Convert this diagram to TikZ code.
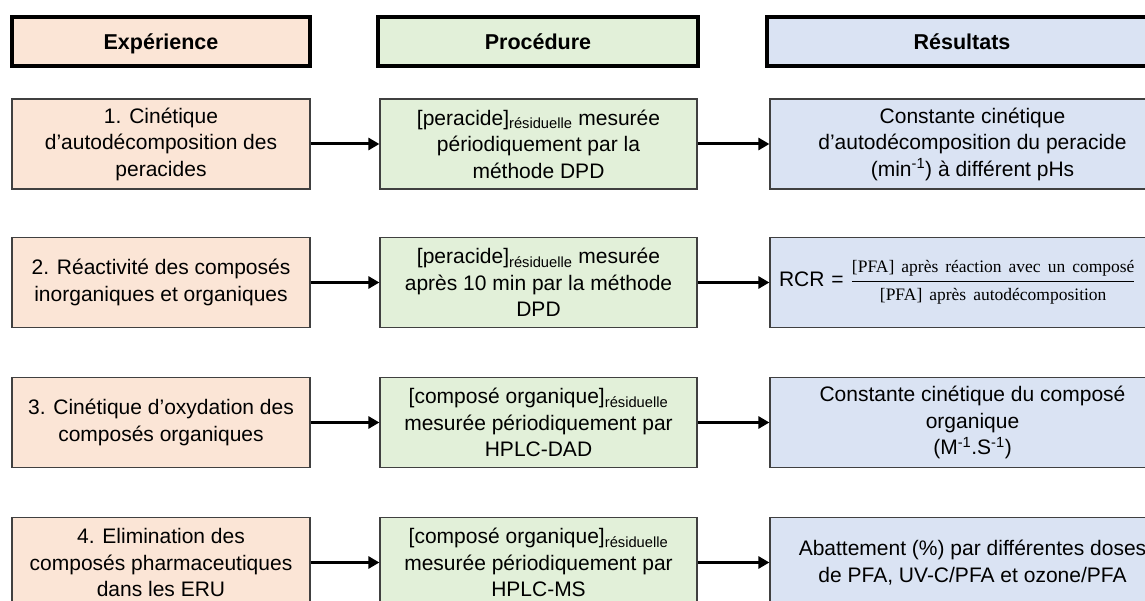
\documentclass[tikz,border=0pt]{standalone}
\usepackage{amsmath}
\usepackage{fontspec}
\setmainfont{Liberation Sans}
\newfontfamily\fracfont{Liberation Serif}
\usetikzlibrary{arrows.meta}

\definecolor{expfill}{HTML}{FBE5D6}
\definecolor{procfill}{HTML}{E2F0D9}
\definecolor{resfill}{HTML}{DAE3F3}
\definecolor{boxline}{HTML}{404040}

\tikzset{
  rowbox/.style={draw=boxline, line width=1.2pt, minimum height=90pt, inner sep=0pt,
    align=center, font=\fontsize{21}{26.5}\selectfont},
  headbox/.style={draw=black, line width=3.2pt, minimum height=49pt, inner sep=0pt,
    text height=17pt, text depth=0pt, font=\fontsize{21.5}{24}\selectfont\bfseries},
  link/.style={line width=3pt, -{Triangle[length=11pt,width=12pt]}}
}

\begin{document}
\begin{tikzpicture}[x=1pt, y=-1pt]
              \useasboundingbox (0,0) rectangle (1145,601);
              \clip (0,0) rectangle (1145,601);

              % headers
              \node[headbox, fill=expfill, minimum width=298pt] (hexp) at (161,41.5) {Expérience};
              \node[headbox, fill=procfill, minimum width=320pt] (hproc) at (538,41.5) {Procédure};
              \node[headbox, fill=resfill, minimum width=390pt] (hres) at (962,41.5) {Résultats};

              % row 1
              \node[rowbox, fill=expfill, minimum width=298pt] (exp1) at (161,144)
                {1. Cinétique\\d’autodécomposition des\\peracides};
              \node[rowbox, fill=procfill, minimum width=317pt] (proc1) at (538.5,144)
                {[peracide]\textsubscript{résiduelle} mesurée\\périodiquement par la\\méthode DPD};
              \node[rowbox, fill=resfill, minimum width=405pt] (res1) at (972.5,144)
                {Constante cinétique\\d’autodécomposition du peracide\\(min\textsuperscript{-1}) à différent pHs};

              % row 2
              \node[rowbox, fill=expfill, minimum width=298pt] (exp2) at (161,282.5)
                {2. Réactivité des composés\\inorganiques et organiques};
              \node[rowbox, fill=procfill, minimum width=317pt] (proc2) at (538.5,282.5)
                {[peracide]\textsubscript{résiduelle} mesurée\\après 10 min par la méthode\\DPD};
              \node[rowbox, fill=resfill, minimum width=405pt, text width=395pt, align=left] (res2) at (972.5,282.5)
                {\hspace*{4pt}RCR = $\dfrac{\mbox{\fracfont\fontsize{17.5}{20}\selectfont [PFA] après réaction avec un composé}}
                  {\mbox{\fracfont\fontsize{17.5}{20}\selectfont [PFA] après autodécomposition}}$};

              % row 3
              \node[rowbox, fill=expfill, minimum width=298pt] (exp3) at (161,422.5)
                {3. Cinétique d’oxydation des\\composés organiques};
              \node[rowbox, fill=procfill, minimum width=317pt] (proc3) at (538.5,422.5)
                {[composé organique]\textsubscript{résiduelle}\\mesurée périodiquement par\\HPLC-DAD};
              \node[rowbox, fill=resfill, minimum width=405pt] (res3) at (972.5,422.5)
                {Constante cinétique du composé\\organique\\(M\textsuperscript{-1}.S\textsuperscript{-1})};

              % row 4
              \node[rowbox, fill=expfill, minimum width=298pt] (exp4) at (161,562.5)
                {4. Elimination des\\composés pharmaceutiques\\dans les ERU};
              \node[rowbox, fill=procfill, minimum width=317pt] (proc4) at (538.5,562.5)
                {[composé organique]\textsubscript{résiduelle}\\mesurée périodiquement par\\HPLC-MS};
              \node[rowbox, fill=resfill, minimum width=405pt] (res4) at (972.5,562.5)
                {Abattement (\%) par différentes doses\\de PFA, UV-C/PFA et ozone/PFA};

              % arrows
              \draw[link] (exp1) -- (proc1);
              \draw[link] (proc1) -- (res1);
              \draw[link] (exp2) -- (proc2);
              \draw[link] (proc2) -- (res2);
              \draw[link] (exp3) -- (proc3);
              \draw[link] (proc3) -- (res3);
              \draw[link] (exp4) -- (proc4);
              \draw[link] (proc4) -- (res4);
            \end{tikzpicture}
\end{document}
